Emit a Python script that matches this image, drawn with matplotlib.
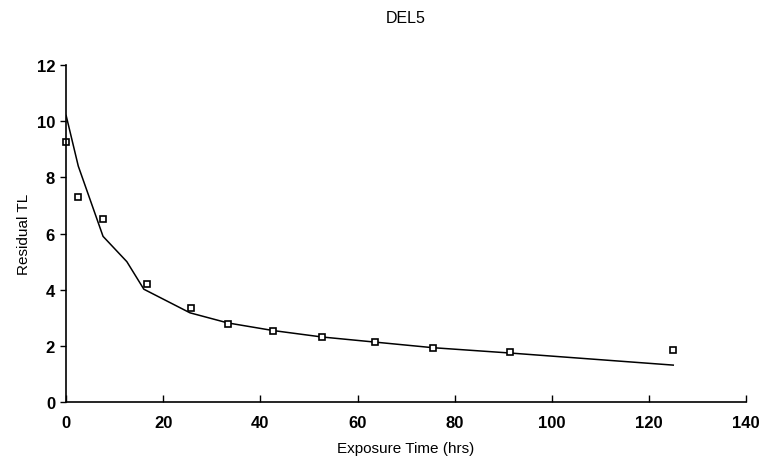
import numpy as np
import matplotlib
matplotlib.use('Agg')
import matplotlib.pyplot as plt

plt.rc('font', family=['Liberation Sans', 'DejaVu Sans'])

# measured residual TL
time_hrs = [0, 2.5, 7.6, 16.7, 25.7, 33.3, 42.6, 52.7, 63.5, 75.5, 91.4, 125]
resid_tl = [9.25, 7.3, 6.5, 4.2, 3.35, 2.8, 2.53, 2.32, 2.14, 1.92, 1.80, 1.86]

# fitted curve
fit_time = [0, 2.5, 7.6, 12.5, 16.0, 25.5, 33.3, 42.6, 52.7, 63.5, 75.5, 91.4, 125]
fit_tl = [10.2, 8.4, 5.9, 5.0, 4.02, 3.18, 2.82, 2.55, 2.32, 2.14, 1.94, 1.75, 1.32]

fig = plt.figure(figsize=(7.78, 4.64), dpi=100)
ax = fig.add_axes([0.085, 0.131, 0.874, 0.727])

ax.plot(fit_time, fit_tl, color='black', lw=1.1)
ax.plot(time_hrs, resid_tl, ls='none', marker='s', ms=5, mfc='white',
        mec='black', mew=1.2, clip_on=False)

ax.set_xlim(0, 140)
ax.set_ylim(0, 12)
ax.set_xticks(np.arange(0, 141, 20))
ax.set_yticks(np.arange(0, 13, 2))
ax.spines['top'].set_visible(False)
ax.spines['right'].set_visible(False)
for s in ['left', 'bottom']:
    ax.spines[s].set_linewidth(1.2)
ax.tick_params(axis='x', direction='in', length=5, width=1, pad=9)
ax.tick_params(axis='y', direction='out', length=4, width=1, pad=4)
for lbl in ax.get_xticklabels() + ax.get_yticklabels():
    lbl.set_fontsize(12)
    lbl.set_fontweight('bold')

ax.set_xlabel('Exposure Time (hrs)', fontsize=11, labelpad=8)
ax.set_ylabel('Residual TL', fontsize=11, labelpad=4)
fig.text(0.522, 0.96, 'DEL5', ha='center', va='center', fontsize=11.5)

fig.savefig('out.png', dpi=100)
